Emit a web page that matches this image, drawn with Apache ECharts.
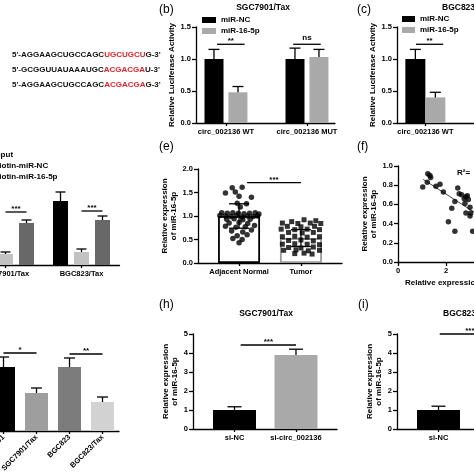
<!DOCTYPE html>
<html><head><meta charset="utf-8">
<script src="https://cdn.jsdelivr.net/npm/echarts@6/dist/echarts.min.js"></script>
<style>html,body{margin:0;padding:0;background:#fff}#c{width:474px;height:474px}</style>
</head><body><div id="c"></div>
<script>
const F = "'Liberation Sans', Arial, Helvetica, sans-serif";

// (a) sequences: [black, red, black]
const seqParts = [
  ["5'-AGGAAGCUGCCAGC", "UGCUGCU", "G-3'"],
  ["5'-GCGGUUAUAAAUGC", "ACGACGA", "U-3'"],
  ["5'-AGGAAGCUGCCAGC", "ACGACGA", "G-3'"]
];
// (b)
const bGroups = ['circ_002136 WT', 'circ_002136 MUT'];
const bNC = [1.0, 1.0];
const bNCErr = [0.15, 0.17];
const b165 = [0.48, 1.03];
const b165Err = [0.09, 0.12];
const bSig = [[0.39, 0.73, 1.23, '**'], [1.33, 1.67, 1.23, 'ns']];
// (c)
const cGroups = ['circ_002136 WT'];
const cNC = [1.0];
const cNCErr = [0.15];
const c165 = [0.40];
const c165Err = [0.08];
const cSig = [[0.385, 0.72, 1.23, '**']];
// (d)
const dGroups = ['SGC7901/Tax', 'BGC823/Tax'];
const dInput = [null, 64];
const dInputErr = [null, 9];
const dNC = [11, 13];
const dNCErr = [2, 3];
const d165 = [42, 45];
const d165Err = [3, 4];
const dSig = [[0, 0, 53, '***'], [1, 1, 54, '***']];
// (e)
const eGroups = ['Adjacent Normal', 'Tumor'];
const eMean = [1.0, 0.53];
const eSD = [0.26, 0.18];
const eNormVals = [1.60,1.61,1.49,1.51,1.42,1.40,1.27,1.26,1.19,1.07,1.06,1.07,1.06,1.05,1.06,1.07,1.04,1.01,1.00,0.99,1.01,0.98,1.00,0.99,1.00,0.93,0.94,0.92,0.93,0.85,0.86,0.84,0.78,0.76,0.77,0.80,0.68,0.66,0.70,0.58,0.60,0.52,0.50,0.43];
const eNormJit = [-0.11,0.05,-0.22,-0.06,0.0,0.2,-0.03,0.12,0.02,-0.28,-0.19,-0.10,-0.01,0.08,0.17,0.26,0.32,-0.31,-0.22,-0.13,-0.04,0.05,0.14,0.23,0.30,-0.2,-0.08,0.06,0.18,-0.16,0.0,0.14,-0.22,-0.05,0.1,0.25,-0.12,0.06,0.2,-0.03,0.13,-0.1,0.05,0.0];
const eTumVals = [0.92,0.88,0.90,0.85,0.84,0.85,0.84,0.78,0.77,0.78,0.72,0.71,0.72,0.71,0.65,0.64,0.65,0.56,0.57,0.55,0.56,0.48,0.49,0.47,0.40,0.41,0.40,0.39,0.33,0.32,0.34,0.27,0.28,0.26,0.27,0.20,0.21,0.19];
const eTumJit = [0.05,-0.15,0.24,-0.3,-0.05,0.15,0.32,-0.22,0.0,0.22,-0.32,-0.1,0.1,0.3,-0.2,0.02,0.2,-0.3,-0.1,0.1,0.3,-0.2,0.0,0.2,-0.3,-0.1,0.1,0.3,-0.2,0.0,0.2,-0.28,-0.08,0.12,0.3,-0.1,0.05,0.18];
const eSig = [[0.63, 1.5, 1.71, '***']];
// (f)
const fX = [1.03,1.24,1.33,1.36,1.22,1.58,1.75,1.89,2.10,2.24,2.37,2.37,2.49,2.55,2.65,2.76,2.83,2.89,2.79,2.93,2.83,3.0,3.03,3.0,3.11];
const fY = [0.78,0.92,0.90,0.88,0.83,0.79,0.81,0.73,0.42,0.56,0.63,0.32,0.77,0.71,0.70,0.66,0.68,0.69,0.61,0.65,0.51,0.57,0.51,0.48,0.32];
const fFit = [[1.05, 0.86], [3.17, 0.52]];
const fXLabels = [0, 2];
// (g)
const gCats = ['SGC7901', 'SGC7901/Tax', 'BGC823', 'BGC823/Tax'];
const gVals = [64, 38, 64, 29];
const gErr = [10, 5, 9, 5];
const gColors = ['#000000', '#9e9e9e', '#7c7c7c', '#d2d2d2'];
const gSig = [[0, 1, 78, '*'], [2, 3, 77, '**']];
// (h)
const hCats = ['si-NC', 'si-circ_002136'];
const hVals = [1.0, 3.9];
const hErr = [0.17, 0.3];
const hSig = [[0.6, 1.5, 4.42, '***']];
// (i)
const iCats = ['si-NC', 'si-circ_002136'];
const iVals = [1.0, null];
const iErr = [0.2, null];
const iSig = [[0.52, 1.5, 5.0, '***']];

// ---------- helpers ----------
const BOLD = (s) => 'bold ' + s + 'px ' + F;
const axLine = {show: true, onZero: false, lineStyle: {color: '#000', width: 1.3}};
const axTick = {show: true, length: 4, lineStyle: {color: '#000', width: 1.3}};
const lbl = (extra) => Object.assign({fontFamily: F, fontWeight: 'bold', fontSize: 7.5, color: '#000', margin: 5, hideOverlap: false}, extra || {});
const nameStyle = {fontFamily: F, fontWeight: 'bold', fontSize: 8, color: '#000', lineHeight: 9.5};

function yAx(grid, min, max, interval, name, gap, dec, show) {
  return {type: 'value', gridIndex: grid, min, max, interval, show: show !== false,
    name, nameLocation: 'middle', nameGap: gap, nameRotate: 90, nameTextStyle: nameStyle,
    axisLine: axLine, axisTick: axTick, splitLine: {show: false},
    axisLabel: lbl({formatter: v => v.toFixed(dec)})};
}
function xVal(grid, min, max, groups) {
  const cv = groups.map((g, i) => i + 0.5);
  return {type: 'value', gridIndex: grid, min, max, splitLine: {show: false}, axisLine: axLine,
    axisTick: {show: true, length: 3, customValues: cv, lineStyle: {color: '#000', width: 1.3}},
    axisLabel: lbl({customValues: cv, formatter: v => groups[Math.round(v - 0.5)] || ''})};
}
function xCat(grid, cats, extra) {
  return {type: 'category', gridIndex: grid, data: cats, boundaryGap: true,
    axisLine: axLine, axisTick: {show: true, length: 3, alignWithLabel: true, lineStyle: {color: '#000', width: 1.3}},
    axisLabel: lbl(Object.assign({interval: 0}, extra || {})), splitLine: {show: false}};
}
function errSeries(xi, yi, xs, vals, errs, dx, capHalf, both) {
  const data = [];
  vals.forEach((v, i) => { if (v != null && errs[i] != null) data.push([xs[i], v, errs[i]]); });
  return {type: 'custom', xAxisIndex: xi, yAxisIndex: yi, data, z: 6, silent: true,
    encode: {x: 0, y: 1},
    renderItem(p, api) {
      const x = api.value(0), v = api.value(1), e = api.value(2);
      const base = api.coord([x, v]), top = api.coord([x, v + e]), bot = api.coord([x, v - e]);
      const cx = base[0] + dx;
      const st = {stroke: '#000', lineWidth: 1.3};
      const ch = [
        {type: 'line', shape: {x1: cx, y1: both ? bot[1] : base[1], x2: cx, y2: top[1]}, style: st},
        {type: 'line', shape: {x1: cx - capHalf, y1: top[1], x2: cx + capHalf, y2: top[1]}, style: st}
      ];
      if (both) ch.push({type: 'line', shape: {x1: cx - capHalf, y1: bot[1], x2: cx + capHalf, y2: bot[1]}, style: st});
      return {type: 'group', children: ch};
    }};
}
function sigSeries(xi, yi, data, dx1, dx2) {
  return {type: 'custom', xAxisIndex: xi, yAxisIndex: yi, data, z: 10, silent: true,
    encode: {x: 0, y: 2},
    renderItem(p, api) {
      const d = data[p.dataIndex];
      const a = api.coord([d[0], d[2]]), b = api.coord([d[1], d[2]]);
      const x1 = a[0] + (dx1 || 0), x2 = b[0] + (dx2 || 0), y = a[1];
      const isNs = d[3] === 'ns';
      return {type: 'group', children: [
        {type: 'line', shape: {x1, y1: y, x2, y2: y}, style: {stroke: '#000', lineWidth: 1.3}},
        {type: 'text', x: (x1 + x2) / 2, y: isNs ? y - 2 : y + 1,
          style: {text: d[3], font: BOLD(8), fill: '#000',
            align: 'center', textAlign: 'center', verticalAlign: 'bottom', textVerticalAlign: 'bottom'}}
      ]};
    }};
}
function txt(x, y, text, font, align, extra) {
  return Object.assign({type: 'text', x, y, silent: true,
    style: {text, font, fill: '#000', align: align || 'left', textAlign: align || 'left',
      verticalAlign: 'middle', textVerticalAlign: 'middle'}}, extra || {});
}

// ---------- layout ----------
const G = (o) => Object.assign({containLabel: false, outerBoundsMode: 'none'}, o);
const grids = [
  G({left: 196, top: 27, width: 139, height: 96}),   // b
  G({left: 397, top: 27, width: 139, height: 96}),   // c
  G({left: -32.5, top: 165, width: 152, height: 100}), // d
  G({left: 198, top: 169, width: 144, height: 94}),  // e
  G({left: 398, top: 166, width: 76.8, height: 96}), // f
  G({left: -13, top: 331, width: 132, height: 100}), // g
  G({left: 193, top: 334, width: 144, height: 95}),  // h
  G({left: 397, top: 334, width: 144, height: 95})   // i
];

const xAxes = [
  xVal(0, 0.13, 0.13 + 139 / 81, bGroups),
  xVal(1, 0.15, 0.15 + 139 / 81, cGroups),
  xCat(2, dGroups),
  xVal(3, -0.163, 2.163, eGroups),
  {type: 'value', gridIndex: 4, min: 0, max: 3.2, interval: 2, splitLine: {show: false},
    axisLine: axLine, axisTick: {show: true, length: 4, customValues: fXLabels, lineStyle: {color: '#000', width: 1.3}},
    axisLabel: lbl({customValues: fXLabels, formatter: v => (v % 2 === 0 ? String(v) : '')})},
  xCat(5, gCats, {rotate: 45, margin: 5}),
  xVal(6, -0.175, 2.167, hCats),
  xVal(7, -0.175, 2.167, iCats)
];
const yName2 = 'Relative expression\nof miR-16-5p';
const yAxes = [
  yAx(0, 0, 1.5, 0.5, 'Relative Luciferase Activity', 14.5, 1),
  yAx(1, 0, 1.5, 0.5, 'Relative Luciferase Activity', 14, 1),
  yAx(2, 0, 100, 20, '', 0, 0, false),
  yAx(3, 0, 2, 0.5, yName2, 16, 1),
  yAx(4, 0, 1, 0.2, yName2, 16, 1),
  yAx(5, 0, 100, 20, '', 0, 0, false),
  yAx(6, 0, 5, 1, yName2, 8, 0),
  yAx(7, 0, 5, 1, yName2, 9, 0)
];

const idx = (arr) => arr.map((v, i) => i + 0.5);
const pairs = (arr) => arr.map((v, i) => [i + 0.5, v]);

const series = [
  // (b)
  {type: 'bar', name: 'miR-NC', xAxisIndex: 0, yAxisIndex: 0, data: pairs(bNC), barWidth: 19, barGap: '26%', itemStyle: {color: '#000'}},
  {type: 'bar', name: 'miR-16-5p', xAxisIndex: 0, yAxisIndex: 0, data: pairs(b165), barWidth: 19, barGap: '26%', itemStyle: {color: '#a9a9a9'}},
  errSeries(0, 0, idx(bNC), bNC, bNCErr, -12, 5.5, false),
  errSeries(0, 0, idx(b165), b165, b165Err, 12, 5.5, false),
  sigSeries(0, 0, bSig),
  // (c)
  {type: 'bar', name: 'miR-NC', xAxisIndex: 1, yAxisIndex: 1, data: pairs(cNC), barWidth: 20, barGap: '0%', itemStyle: {color: '#000'}},
  {type: 'bar', name: 'miR-16-5p', xAxisIndex: 1, yAxisIndex: 1, data: pairs(c165), barWidth: 20, barGap: '0%', itemStyle: {color: '#a9a9a9'}},
  errSeries(1, 1, idx(cNC), cNC, cNCErr, -10, 5.5, false),
  errSeries(1, 1, idx(c165), c165, c165Err, 10, 5.5, false),
  sigSeries(1, 1, cSig),
  // (d)
  {type: 'bar', name: 'Input', xAxisIndex: 2, yAxisIndex: 2, data: dInput, barWidth: 15, barGap: '40%', itemStyle: {color: '#000'}},
  {type: 'bar', name: 'Biotin-miR-NC', xAxisIndex: 2, yAxisIndex: 2, data: dNC, barWidth: 15, barGap: '40%', itemStyle: {color: '#c2c2c2'}},
  {type: 'bar', name: 'Biotin-miR-16-5p', xAxisIndex: 2, yAxisIndex: 2, data: d165, barWidth: 15, barGap: '40%', itemStyle: {color: '#686868'}},
  errSeries(2, 2, [0, 1], dInput, dInputErr, -21, 5, false),
  errSeries(2, 2, [0, 1], dNC, dNCErr, 0, 5, false),
  errSeries(2, 2, [0, 1], d165, d165Err, 21, 5, false),
  sigSeries(2, 2, dSig, 0, 21),
  // (e)
  {type: 'bar', xAxisIndex: 3, yAxisIndex: 3, barWidth: 42, z: 2,
    data: [{value: [0.5, eMean[0]], itemStyle: {color: '#fff', borderColor: '#000', borderWidth: 1.8}},
           {value: [1.5, eMean[1]], itemStyle: {color: '#fff', borderColor: '#9a9a9a', borderWidth: 1.8}}]},
  {type: 'scatter', xAxisIndex: 3, yAxisIndex: 3, symbol: 'circle', symbolSize: 5.5, z: 3,
    itemStyle: {color: '#000'}, data: eNormVals.map((v, i) => [0.5 + eNormJit[i], v])},
  {type: 'scatter', xAxisIndex: 3, yAxisIndex: 3, symbol: 'rect', symbolSize: 5, z: 3,
    itemStyle: {color: '#000'}, data: eTumVals.map((v, i) => [1.5 + eTumJit[i], v])},
  errSeries(3, 3, idx(eMean), eMean, eSD, 0, 10, true),
  sigSeries(3, 3, eSig),
  // (f)
  {type: 'scatter', xAxisIndex: 4, yAxisIndex: 4, symbol: 'circle', symbolSize: 5.5, clip: false,
    itemStyle: {color: '#000'}, data: fX.map((x, i) => [x, fY[i]])},
  {type: 'line', xAxisIndex: 4, yAxisIndex: 4, data: fFit, symbol: 'none', clip: false,
    lineStyle: {color: '#444', width: 1}, z: 1},
  // (g)
  {type: 'bar', xAxisIndex: 5, yAxisIndex: 5, barWidth: 23,
    data: gVals.map((v, i) => ({value: v, itemStyle: {color: gColors[i]}}))},
  errSeries(5, 5, [0, 1, 2, 3], gVals, gErr, 0, 5.5, false),
  sigSeries(5, 5, gSig),
  // (h)
  {type: 'bar', xAxisIndex: 6, yAxisIndex: 6, barWidth: 43,
    data: hVals.map((v, i) => ({value: [i + 0.5, v], itemStyle: {color: i === 0 ? '#000' : '#a9a9a9'}}))},
  errSeries(6, 6, idx(hVals), hVals, hErr, 0, 7, false),
  sigSeries(6, 6, hSig),
  // (i)
  {type: 'bar', xAxisIndex: 7, yAxisIndex: 7, barWidth: 43,
    data: iVals.map((v, i) => ({value: [i + 0.5, v], itemStyle: {color: i === 0 ? '#000' : '#a9a9a9'}}))},
  errSeries(7, 7, idx(iVals), iVals, iErr, 0, 7, false),
  sigSeries(7, 7, iSig)
];

const legendText = {fontFamily: F, fontWeight: 'bold', fontSize: 8, color: '#000', lineHeight: 8};
const legends = [
  {data: ['miR-NC', 'miR-16-5p'], orient: 'vertical', left: 202, top: 16, itemWidth: 14, itemHeight: 6, itemGap: 3, icon: 'rect', selectedMode: false, padding: 0, textStyle: legendText},
  {data: ['miR-NC', 'miR-16-5p'], orient: 'vertical', left: 402, top: 15, itemWidth: 13, itemHeight: 6, itemGap: 3, icon: 'rect', selectedMode: false, padding: 0, textStyle: legendText},
  {data: ['Input', 'Biotin-miR-NC', 'Biotin-miR-16-5p'], orient: 'vertical', left: -24.5, top: 151, itemWidth: 13, itemHeight: 7, itemGap: 3, icon: 'rect', selectedMode: false, padding: 0, textStyle: legendText}
];

const graphics = [];
seqParts.forEach((p, k) => {
  graphics.push({type: 'text', x: 12, y: 55 + 15 * k, silent: true,
    style: {text: '{k|' + p[0] + '}{r|' + p[1] + '}{k|' + p[2] + '}',
      verticalAlign: 'middle', textVerticalAlign: 'middle',
      rich: {k: {fill: '#111', fontSize: 8, fontWeight: 'bold', fontFamily: F},
             r: {fill: '#e3222a', fontSize: 8, fontWeight: 'bold', fontFamily: F}}}});
});
const PL = '12px ' + F;
graphics.push(
  txt(159, 10, '(b)', PL), txt(357, 10, '(c)', PL),
  txt(159, 147, '(e)', PL), txt(357, 147, '(f)', PL),
  txt(159, 305, '(h)', PL), txt(358, 305, '(i)', PL),
  txt(263, 8, 'SGC7901/Tax', BOLD(8.5), 'center'),
  txt(442, 8, 'BGC823/Tax', BOLD(8.5), 'left'),
  txt(266, 314, 'SGC7901/Tax', BOLD(8.5), 'center'),
  txt(443, 314, 'BGC823/Tax', BOLD(8.5), 'left'),
  txt(457, 173, 'R²=', BOLD(8), 'left'),
  txt(405, 283, 'Relative expression of circ_002136', BOLD(8), 'left')
);

const chart = echarts.init(document.getElementById('c'), null, {renderer: 'canvas', width: 474, height: 474});
chart.setOption({
  backgroundColor: '#fff',
  animation: false,
  grid: grids,
  xAxis: xAxes,
  yAxis: yAxes,
  legend: legends,
  series,
  graphic: graphics
});
</script></body></html>
